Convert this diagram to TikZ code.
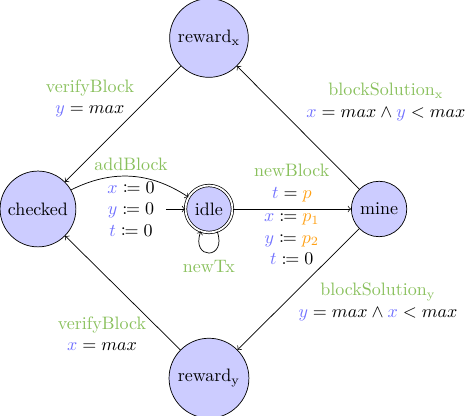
\documentclass[tikz,border=0pt]{standalone}
\usepackage{amssymb}
\usepackage{mathtools}
\usepackage{tikz}
\usetikzlibrary{arrows}
\definecolor{syncgreen}{RGB}{137,192,92}
\definecolor{varblue}{RGB}{112,112,255}
\definecolor{parorange}{RGB}{255,160,20}
\newcommand{\vx}{\textcolor{varblue}{x}}
\newcommand{\vy}{\textcolor{varblue}{y}}
\newcommand{\vt}{\textcolor{varblue}{t}}
\newcommand{\syn}[1]{\textcolor{syncgreen}{#1}}

\begin{document}
\begin{tikzpicture}[x=1em,y=1em,
		loc/.style={draw, circle, fill=blue!20},
		lbl/.style={align=center, inner sep=1pt}]
			\useasboundingbox (-11.61,-11.5) rectangle (14.39,11.61);
			\node[loc, double, double distance=1pt] (idle) at (0,0) {idle};
			\node[loc] (checked) at (-9.5,0) {checked};
			\node[loc] (mine) at (9.45,0) {mine};
			\node[loc] (rewx) at (0,9.5) {reward$_\mathrm{x}$};
			\node[loc] (rewy) at (0,-9.4) {reward$_\mathrm{y}$};
			\coordinate (init) at (-2.4,0);
			\draw[->] (init) -- (idle);
			\draw[->] (checked) to[bend left=30] (idle);
			\draw[->] (idle) -- (mine);
			\draw[->] (idle) to[out=-70, in=-110, loop, min distance=1.7em] (idle);
			\draw[->] (rewx) -- (checked);
			\draw[->] (rewy) -- (checked);
			\draw[->] (mine) -- (rewx);
			\draw[->] (mine) -- (rewy);
			\node[lbl] (verx) at (-6.61,6.14) {\syn{verifyBlock}\\ $\vy = max$};
			\node[lbl] (very) at (-5.94,-6.92) {\syn{verifyBlock}\\ $\vx = max$};
			\node[lbl] (solx) at (9.83,5.94) {\syn{blockSolution$_\mathrm{x}$}\\ $\vx = max \land \vy < max$};
			\node[lbl] (soly) at (9.39,-5.17) {\syn{blockSolution$_\mathrm{y}$}\\ $\vy = max \land \vx < max$};
			\node[lbl] (add) at (-4.33,2.5) {\syn{addBlock}};
			\node[lbl] (reset) at (-4.33,0) {$\vx \coloneqq 0$\\ $\vy \coloneqq 0$\\ $\vt \coloneqq 0$};
			\node[lbl] (newb) at (4.6,1.44) {\syn{newBlock}\\ $\vt = \textcolor{parorange}{p}$};
			\node[lbl] (assign) at (4.6,-1.67) {$\vx \coloneqq \textcolor{parorange}{p_1}$\\ $\vy \coloneqq \textcolor{parorange}{p_2}$\\ $\vt \coloneqq 0$};
			\node[lbl] (newtx) at (0,-3.22) {\syn{newTx}};
		\end{tikzpicture}
\end{document}
